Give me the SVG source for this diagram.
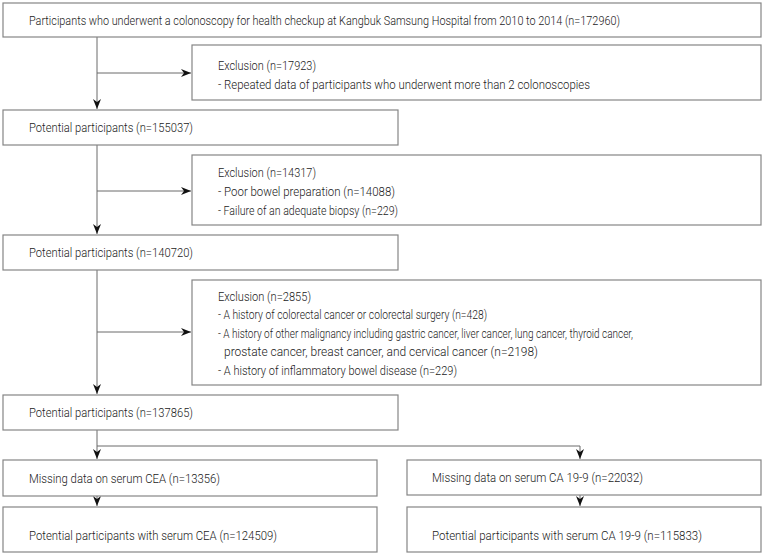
<svg xmlns="http://www.w3.org/2000/svg" width="764" height="555" viewBox="0 0 764 555">
<defs>
<style>
.box{fill:#ffffff;stroke:#858585;stroke-width:1.2}
.t{font-family:Roboto,"Liberation Sans",sans-serif;font-weight:300;font-size:13px;fill:#1a1a1a}
.c{fill:none;stroke:#6a6a6a;stroke-width:1}
</style>
<marker id="ah" markerUnits="userSpaceOnUse" markerWidth="11" markerHeight="9" refX="10" refY="4" orient="auto">
<path d="M0,0 L10,4 L0,8 L3,4 Z" fill="#111"/>
</marker>
</defs>
<rect width="764" height="555" fill="#ffffff"/>

<g id="connectors">
<path class="c" d="M97,37 V109" marker-end="url(#ah)"/>
<path class="c" d="M97,73 H191" marker-end="url(#ah)"/>
<path class="c" d="M97,145 V234" marker-end="url(#ah)"/>
<path class="c" d="M97,191 H191" marker-end="url(#ah)"/>
<path class="c" d="M97,270 V394" marker-end="url(#ah)"/>
<path class="c" d="M97,332 H191" marker-end="url(#ah)"/>
<path class="c" d="M97,430 V459" marker-end="url(#ah)"/>
<path class="c" d="M97,446 H580 V459" marker-end="url(#ah)"/>
<path class="c" d="M97,496 V506" marker-end="url(#ah)"/>
<path class="c" d="M580,495 V506" marker-end="url(#ah)"/>
</g>

<g id="n1">
<rect class="box" x="3" y="3" width="758" height="34"/>
<text class="t" x="29" y="25" textLength="591" lengthAdjust="spacingAndGlyphs">Participants who underwent a colonoscopy for health checkup at Kangbuk Samsung Hospital from 2010 to 2014 (n=172960)</text>
</g>

<g id="ex1">
<rect class="box" x="192" y="45" width="569" height="55"/>
<text class="t" x="218" y="70" textLength="98" lengthAdjust="spacingAndGlyphs">Exclusion (n=17923)</text>
<text class="t" x="218" y="88.5" textLength="372" lengthAdjust="spacingAndGlyphs">- Repeated data of participants who underwent more than 2 colonoscopies</text>
</g>

<g id="n2">
<rect class="box" x="3" y="110" width="395" height="35"/>
<text class="t" x="29" y="132" textLength="164" lengthAdjust="spacingAndGlyphs">Potential participants (n=155037)</text>
</g>

<g id="ex2">
<rect class="box" x="192" y="155" width="569" height="70"/>
<text class="t" x="218" y="177" textLength="98" lengthAdjust="spacingAndGlyphs">Exclusion (n=14317)</text>
<text class="t" x="218" y="196" textLength="177" lengthAdjust="spacingAndGlyphs">- Poor bowel preparation (n=14088)</text>
<text class="t" x="218" y="215" textLength="180" lengthAdjust="spacingAndGlyphs">- Failure of an adequate biopsy (n=229)</text>
</g>

<g id="n3">
<rect class="box" x="3" y="235" width="395" height="35"/>
<text class="t" x="29" y="257" textLength="164" lengthAdjust="spacingAndGlyphs">Potential participants (n=140720)</text>
</g>

<g id="ex3">
<rect class="box" x="192" y="280" width="569" height="105"/>
<text class="t" x="218" y="300.5" textLength="93" lengthAdjust="spacingAndGlyphs">Exclusion (n=2855)</text>
<text class="t" x="218" y="319" textLength="269" lengthAdjust="spacingAndGlyphs">- A history of colorectal cancer or colorectal surgery (n=428)</text>
<text class="t" x="218" y="337.5" textLength="415" lengthAdjust="spacingAndGlyphs">- A history of other malignancy including gastric cancer, liver cancer, lung cancer, thyroid cancer,</text>
<text class="t" x="224" y="356" textLength="314" lengthAdjust="spacingAndGlyphs">prostate cancer, breast cancer, and cervical cancer (n=2198)</text>
<text class="t" x="218" y="374.5" textLength="239" lengthAdjust="spacingAndGlyphs">- A history of inflammatory bowel disease (n=229)</text>
</g>

<g id="n4">
<rect class="box" x="3" y="395" width="395" height="35"/>
<text class="t" x="29" y="417" textLength="164" lengthAdjust="spacingAndGlyphs">Potential participants (n=137865)</text>
</g>

<g id="n5">
<rect class="box" x="3" y="460" width="374" height="36"/>
<text class="t" x="29" y="482.5" textLength="191" lengthAdjust="spacingAndGlyphs">Missing data on serum CEA (n=13356)</text>
</g>

<g id="n6">
<rect class="box" x="3" y="507" width="374" height="45"/>
<text class="t" x="29" y="539.5" textLength="248" lengthAdjust="spacingAndGlyphs">Potential participants with serum CEA (n=124509)</text>
</g>

<g id="n7">
<rect class="box" x="407" y="460" width="354" height="35"/>
<text class="t" x="432" y="482" textLength="211" lengthAdjust="spacingAndGlyphs">Missing data on serum CA 19-9 (n=22032)</text>
</g>

<g id="n8">
<rect class="box" x="407" y="507" width="354" height="45"/>
<text class="t" x="432" y="539.5" textLength="270" lengthAdjust="spacingAndGlyphs">Potential participants with serum CA 19-9 (n=115833)</text>
</g>
</svg>
